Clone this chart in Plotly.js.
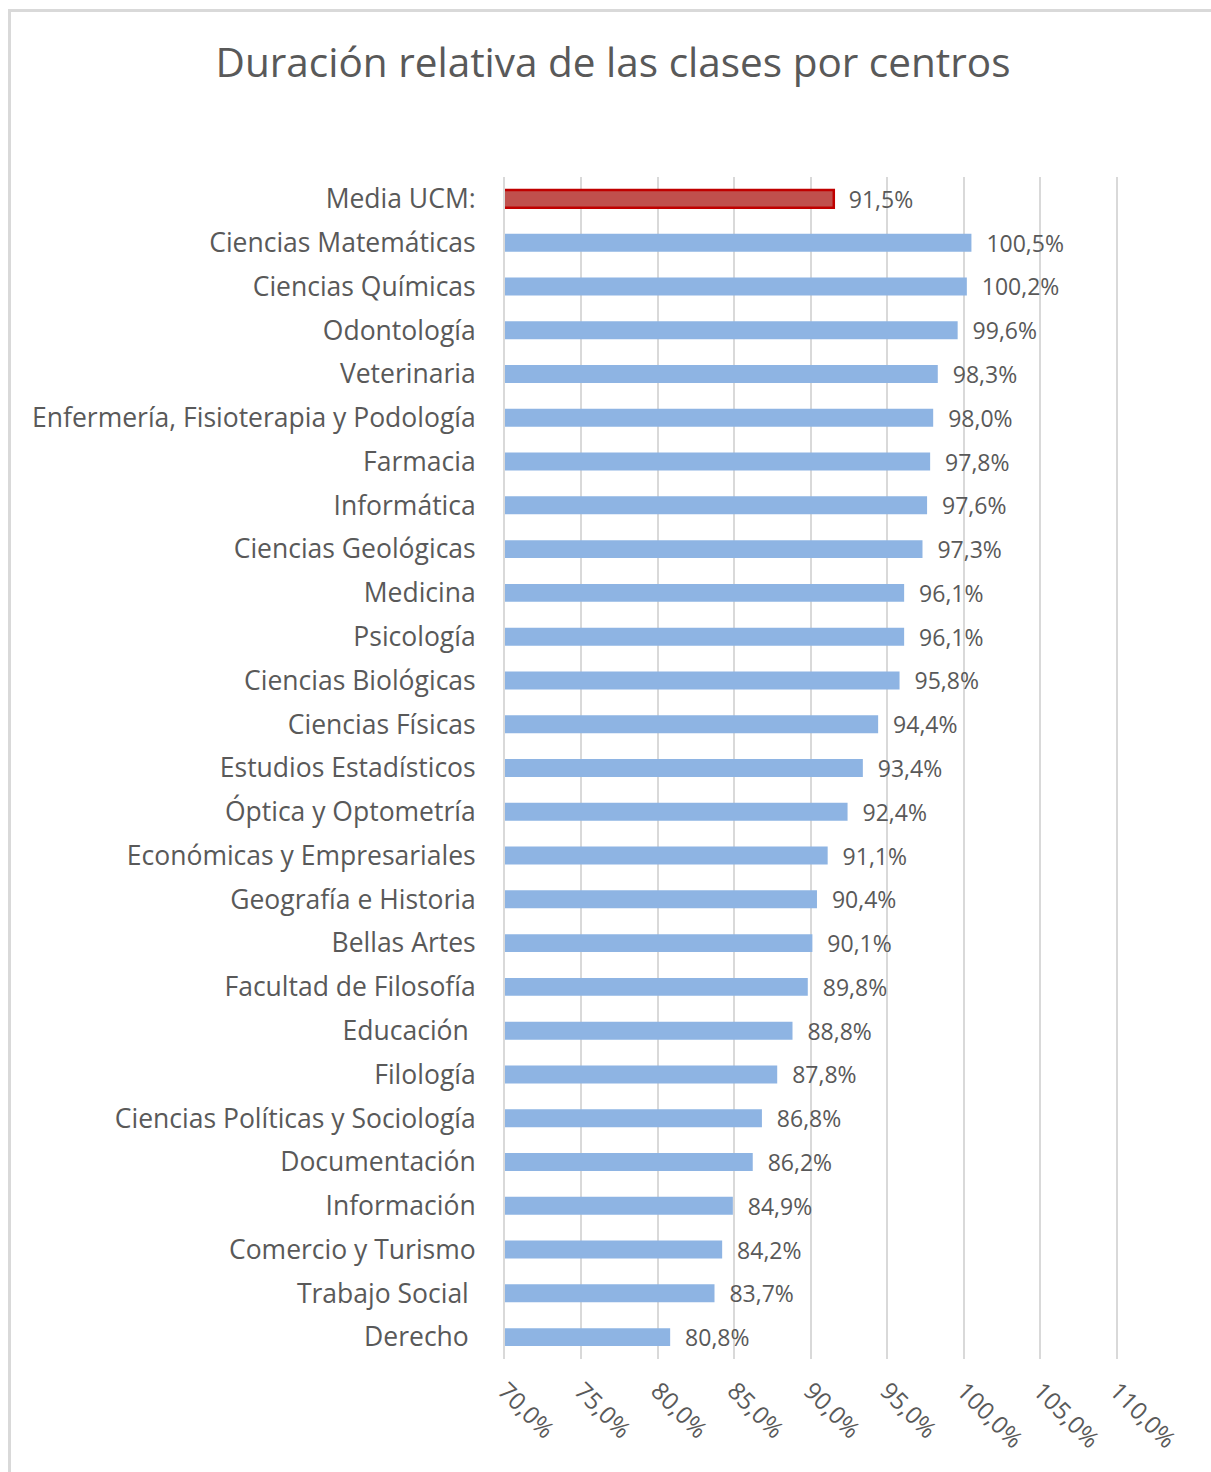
<!DOCTYPE html>
<html>
<head>
<meta charset="utf-8">
<script src="https://cdn.plot.ly/plotly-3.0.1.min.js"></script>
<style>
  html, body { margin: 0; padding: 0; background: #ffffff; }
  #wrap { position: relative; width: 1211px; height: 1472px; overflow: hidden; }
  #chart { width: 1211px; height: 1472px; }
  #frame { position: absolute; left: 8px; top: 9px; width: 1220px; height: 1480px;
           border-left: 3px solid #d9d9d9; border-top: 3px solid #d9d9d9; pointer-events: none; }
</style>
</head>
<body>
<div id="wrap">
  <div id="chart"></div>
  <div id="frame"></div>
</div>
<script>
const centros = [
  "Media UCM:",
  "Ciencias Matemáticas",
  "Ciencias Químicas",
  "Odontología",
  "Veterinaria",
  "Enfermería, Fisioterapia y Podología",
  "Farmacia",
  "Informática",
  "Ciencias Geológicas",
  "Medicina",
  "Psicología",
  "Ciencias Biológicas",
  "Ciencias Físicas",
  "Estudios Estadísticos",
  "Óptica y Optometría",
  "Económicas y Empresariales",
  "Geografía e Historia",
  "Bellas Artes",
  "Facultad de Filosofía",
  "Educación\u00a0",
  "Filología",
  "Ciencias Políticas y Sociología",
  "Documentación",
  "Información",
  "Comercio y Turismo",
  "Trabajo Social\u00a0",
  "Derecho\u00a0"
];
const duracion = [
  91.5, 100.5, 100.2, 99.6, 98.3, 98.0, 97.8, 97.6, 97.3, 96.1, 96.1, 95.8, 94.4,
  93.4, 92.4, 91.1, 90.4, 90.1, 89.8, 88.8, 87.8, 86.8, 86.2, 84.9, 84.2, 83.7, 80.8
];
const tickVals = [70, 75, 80, 85, 90, 95, 100, 105, 110];
const tickText = ["70,0%", "75,0%", "80,0%", "85,0%", "90,0%", "95,0%", "100,0%", "105,0%", "110,0%"];

const fillColors = duracion.map((v, i) => i === 0 ? "#C0504D" : "#8EB4E3");
const lineColors = duracion.map((v, i) => i === 0 ? "#C00000" : "rgba(0,0,0,0)");
const lineWidths = duracion.map((v, i) => i === 0 ? 2.5 : 0);
const labels = duracion.map(v => "\u00a0\u00a0" + v.toFixed(1).replace(".", ",") + "%");

const font = "Open Sans, Noto Sans, sans-serif";
const grey = "#595959";

const trace = {
  type: "bar",
  orientation: "h",
  y: centros,
  x: duracion,
  base: 0,
  marker: { color: fillColors, line: { color: lineColors, width: lineWidths } },
  text: labels,
  textposition: "outside",
  constraintext: "none",
  cliponaxis: false,
  textfont: { family: font, size: 23, color: grey },
  hoverinfo: "none"
};

const layout = {
  width: 1211,
  height: 1472,
  paper_bgcolor: "#ffffff",
  plot_bgcolor: "#ffffff",
  margin: { l: 505, r: 92, t: 177, b: 113 },
  title: {
    text: "Duración relativa de las clases por centros",
    font: { family: font, size: 40.5, color: grey },
    x: 613 / 1211, xref: "container", xanchor: "center",
    y: 1 - 63 / 1472, yref: "container", yanchor: "middle"
  },
  bargap: 0.59,
  showlegend: false,
  xaxis: {
    range: [70, 110.15],
    tickvals: tickVals,
    ticktext: tickText,
    tickangle: 45,
    tickfont: { family: font, size: 24, color: grey },
    showgrid: true,
    gridcolor: "#d9d9d9",
    gridwidth: 2,
    zeroline: false,
    showline: false,
    ticks: "",
    ticklabelstandoff: 12,
    fixedrange: true
  },
  yaxis: {
    autorange: "reversed",
    type: "category",
    tickfont: { family: font, size: 26.5, color: grey },
    showgrid: false,
    zeroline: false,
    showline: true,
    linecolor: "#d9d9d9",
    linewidth: 2,
    ticks: "",
    ticklabelstandoff: 22,
    fixedrange: true
  }
};

Plotly.newPlot("chart", [trace], layout, { displayModeBar: false, staticPlot: true });
</script>
</body>
</html>
